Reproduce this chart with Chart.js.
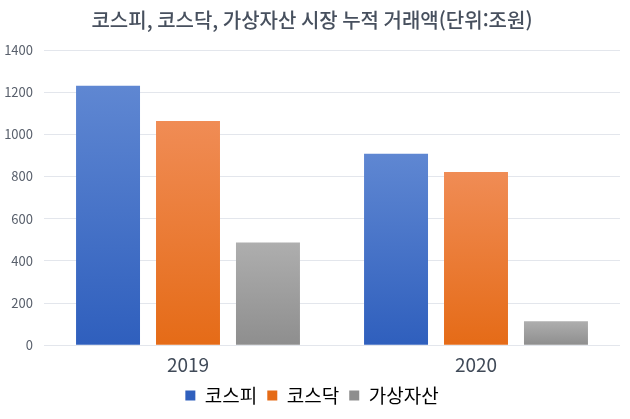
<!DOCTYPE html>
<html lang="ko">
<head>
<meta charset="UTF-8">
<title>chart</title>
<script src="https://cdn.jsdelivr.net/npm/chart.js@4/dist/chart.umd.min.js"></script>
<style>
  html, body { margin: 0; padding: 0; background: #fff; }
  #wrap { width: 630px; height: 419px; }
</style>
</head>
<body>
<div id="wrap"><canvas id="myChart" width="630" height="419"></canvas></div>
<script>
const years = ['2019', '2020'];
const kospi = [1230, 908];
const kosdaq = [1063, 822];
const crypto = [487, 113];
const seriesNames = ['코스피', '코스닥', '가상자산'];
const yTicks = [0, 200, 400, 600, 800, 1000, 1200, 1400];

const FONT = "'Noto Sans CJK KR', 'Noto Sans', sans-serif";

// top / bottom colours of each bar gradient
const shades = [
  ['#5f87d2', '#2f5fbd'],
  ['#f08c55', '#e56b17'],
  ['#aeaeae', '#8e8e8e']
];

function barFill(i) {
  return function (ctx) {
    const chart = ctx.chart;
    if (!chart.chartArea || ctx.type !== 'data') return shades[i][1];
    const y = chart.scales.y;
    const top = y.getPixelForValue(ctx.raw);
    const bottom = y.getPixelForValue(0);
    const g = chart.ctx.createLinearGradient(0, top, 0, bottom);
    g.addColorStop(0, shades[i][0]);
    g.addColorStop(1, shades[i][1]);
    return g;
  };
}

const ctx = document.getElementById('myChart').getContext('2d');
new Chart(ctx, {
  type: 'bar',
  data: {
    labels: years,
    datasets: [kospi, kosdaq, crypto].map((d, i) => ({
      label: seriesNames[i],
      data: d,
      backgroundColor: barFill(i),
      borderWidth: 0
    }))
  },
  options: {
    responsive: false,
    animation: false,
    categoryPercentage: 0.833,
    barPercentage: 0.8,
    layout: { padding: { left: 4, right: 10, top: 4, bottom: 4 } },
    plugins: {
      title: {
        display: true,
        text: '코스피, 코스닥, 가상자산 시장 누적 거래액(단위:조원)',
        color: '#47505e',
        font: { family: FONT, size: 20, weight: '500' },
        padding: { top: 4, bottom: 18 }
      },
      legend: {
        position: 'bottom',
        labels: {
          color: '#404a58',
          font: { family: FONT, size: 19 },
          boxWidth: 10,
          boxHeight: 10,
          padding: 10,
          generateLabels: chart => seriesNames.map((n, i) => ({
            text: n,
            fillStyle: shades[i][1],
            strokeStyle: shades[i][1],
            lineWidth: 0,
            datasetIndex: i
          }))
        }
      },
      tooltip: { enabled: false }
    },
    scales: {
      x: {
        grid: { display: false },
        border: { display: false },
        ticks: { color: '#404a58', font: { family: FONT, size: 19 }, padding: 0 }
      },
      y: {
        min: 0,
        max: 1400,
        afterBuildTicks: axis => { axis.ticks = yTicks.map(v => ({ value: v })); },
        afterFit: axis => { axis.width = 40; },
        grid: { color: '#e3e6ec', lineWidth: 1, drawTicks: false },
        border: { display: false },
        ticks: {
          color: '#59606c',
          font: { family: FONT, size: 13 },
          padding: 11,
          callback: v => String(v)
        }
      }
    }
  }
});
</script>
</body>
</html>
